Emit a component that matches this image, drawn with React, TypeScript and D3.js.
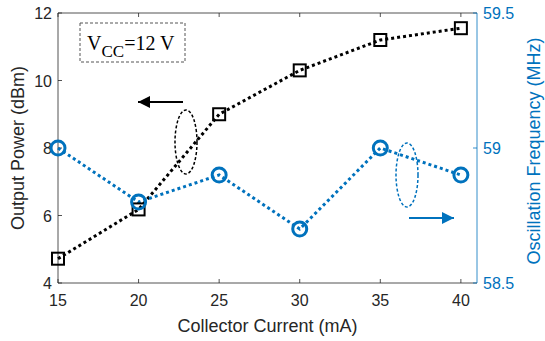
import React from "react";
import * as d3 from "d3";

const current = [15, 20, 25, 30, 35, 40];
const power = [4.72, 6.18, 9.0, 10.3, 11.2, 11.55];
const freq = [59.0, 58.8, 58.9, 58.7, 59.0, 58.9];
const xTicks = [15, 20, 25, 30, 35, 40];
const yLeftTicks = [4, 6, 8, 10, 12];
const yRightTicks = [58.5, 59, 59.5];

const W = 545, H = 341;
const L = 58, R = 477, T = 13, B = 283;
const BLUE = "#0072BD";
const AX = "#262626";
const FONT = "'Liberation Sans', Arial, sans-serif";

export default function App() {
  const x = d3.scaleLinear().domain([15, 41]).range([L, R]);
  const yl = d3.scaleLinear().domain([4, 12]).range([B, T]);
  const yr = d3.scaleLinear().domain([58.5, 59.5]).range([B, T]);
  const lineL = d3.line<number>().x((_, i) => x(current[i])).y((d) => yl(d));
  const lineR = d3.line<number>().x((_, i) => x(current[i])).y((d) => yr(d));
  const tl = 4;
  return (
    <svg width={W} height={H} style={{ position: "absolute", left: 0, top: 0, background: "#fff" }}>
      <defs>
        <marker id="ahB" viewBox="0 0 10 10" refX="10" refY="5" markerWidth="15" markerHeight="12" markerUnits="userSpaceOnUse" orient="auto">
          <path d="M0,0 L10,5 L0,10 z" fill="#000" />
        </marker>
        <marker id="ahBl" viewBox="0 0 10 10" refX="10" refY="5" markerWidth="15" markerHeight="12" markerUnits="userSpaceOnUse" orient="auto">
          <path d="M0,0 L10,5 L0,10 z" fill={BLUE} />
        </marker>
      </defs>
      {/* axes box */}
      <line x1={L} x2={R} y1={B} y2={B} stroke={AX} strokeWidth={0.8} />
      <line x1={L} x2={R} y1={T} y2={T} stroke={AX} strokeWidth={0.8} />
      <line x1={L} x2={L} y1={T} y2={B} stroke={AX} strokeWidth={0.8} />
      <line x1={R} x2={R} y1={T} y2={B} stroke={BLUE} strokeWidth={0.8} />
      {xTicks.map((t) => (
        <g key={"x" + t}>
          <line x1={x(t)} x2={x(t)} y1={B} y2={B - tl} stroke={AX} strokeWidth={0.8} />
          <line x1={x(t)} x2={x(t)} y1={T} y2={T + tl} stroke={AX} strokeWidth={0.8} />
          <text x={x(t)} y={B + 23} textAnchor="middle" fontFamily={FONT} fontSize={16} fill={AX}>{t}</text>
        </g>
      ))}
      {yLeftTicks.map((t) => (
        <g key={"yl" + t}>
          <line x1={L} x2={L + tl} y1={yl(t)} y2={yl(t)} stroke={AX} strokeWidth={0.8} />
          <text x={L - 6} y={yl(t) + 6} textAnchor="end" fontFamily={FONT} fontSize={16} fill={AX}>{t}</text>
        </g>
      ))}
      {yRightTicks.map((t) => (
        <g key={"yr" + t}>
          <line x1={R} x2={R - tl} y1={yr(t)} y2={yr(t)} stroke={BLUE} strokeWidth={0.8} />
          <text x={R + 6} y={yr(t) + 6} textAnchor="start" fontFamily={FONT} fontSize={16} fill={BLUE}>{t}</text>
        </g>
      ))}
      {/* axis labels */}
      <text transform={`translate(24,${(T + B) / 2}) rotate(-90)`} textAnchor="middle" fontFamily={FONT} fontSize={18} fill={AX}>Output Power (dBm)</text>
      <text transform={`translate(540,${(T + B) / 2 + 3}) rotate(-90)`} textAnchor="middle" fontFamily={FONT} fontSize={18} fill={BLUE}>Oscillation Frequency (MHz)</text>
      <text x={(L + R) / 2} y={332} textAnchor="middle" fontFamily={FONT} fontSize={18} fill={AX}>Collector Current (mA)</text>
      {/* series lines */}
      <path d={lineL(power) || ""} fill="none" stroke="#000" strokeWidth={3} strokeDasharray="3 3" />
      <path d={lineR(freq) || ""} fill="none" stroke={BLUE} strokeWidth={3} strokeDasharray="3 3" />
      {power.map((v, i) => (
        <rect key={"s" + i} x={x(current[i]) - 6} y={yl(v) - 6} width={12} height={12} fill="none" stroke="#000" strokeWidth={2} />
      ))}
      {freq.map((v, i) => (
        <circle key={"c" + i} cx={x(current[i])} cy={yr(v)} r={7} fill="none" stroke={BLUE} strokeWidth={3} />
      ))}
      {/* annotations */}
      <rect x={80} y={23} width={105} height={39} fill="#fff" stroke="#555" strokeWidth={1} strokeDasharray="3 2" />
      <text x={87} y={50} fontFamily="'Liberation Serif', 'Times New Roman', serif" fontSize={20} fill="#000">
        V<tspan dy={7} fontSize={17}>CC</tspan><tspan dy={-7}>=12 V</tspan>
      </text>
      <line x1={183} x2={138} y1={102} y2={102} stroke="#000" strokeWidth={2} markerEnd="url(#ahB)" />
      <ellipse cx={186} cy={142} rx={11} ry={32} fill="none" stroke="#000" strokeWidth={1.5} strokeDasharray="3 2" />
      <ellipse cx={407} cy={175} rx={11} ry={32} fill="none" stroke={BLUE} strokeWidth={1.5} strokeDasharray="3 2" />
      <line x1={409} x2={454} y1={218} y2={218} stroke={BLUE} strokeWidth={2} markerEnd="url(#ahBl)" />
    </svg>
  );
}
